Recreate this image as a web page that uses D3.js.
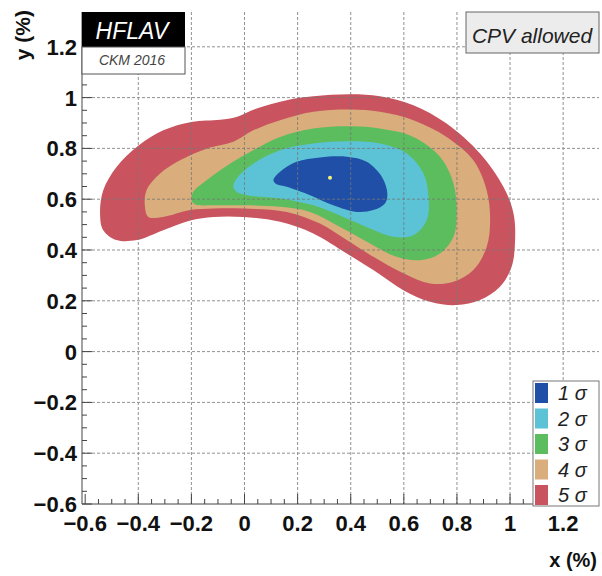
<!DOCTYPE html>
<html><head><meta charset="utf-8">
<script src="https://cdn.jsdelivr.net/npm/d3@7"></script>
<style>body{margin:0;background:#fff}svg{display:block}</style>
</head><body><svg id="c" width="602" height="576"></svg>
<script>
// ---- data (x %, y %) ----
const contour5 = [[-0.544,0.544],[-0.532,0.635],[-0.482,0.727],[-0.40,0.81],[-0.306,0.871],[-0.20,0.904],[-0.092,0.913],[-0.03,0.924],[0.046,0.957],[0.159,0.99],[0.259,1.005],[0.40,1.013],[0.51,1.005],[0.636,0.97],[0.761,0.898],[0.887,0.78],[0.975,0.649],[1.013,0.544],[1.019,0.439],[1.006,0.334],[0.962,0.255],[0.887,0.203],[0.799,0.183],[0.699,0.196],[0.598,0.242],[0.485,0.321],[0.385,0.386],[0.259,0.465],[0.134,0.511],[-0.004,0.53],[-0.117,0.53],[-0.20,0.517],[-0.306,0.478],[-0.406,0.439],[-0.482,0.439],[-0.532,0.478]];
const contour4 = [[-0.375,0.570],[-0.369,0.635],[-0.318,0.701],[-0.243,0.753],[-0.143,0.799],[-0.042,0.826],[0.033,0.871],[0.134,0.911],[0.259,0.944],[0.40,0.953],[0.51,0.944],[0.636,0.911],[0.761,0.845],[0.862,0.753],[0.912,0.635],[0.925,0.517],[0.912,0.412],[0.862,0.321],[0.787,0.275],[0.699,0.268],[0.598,0.308],[0.485,0.373],[0.385,0.439],[0.284,0.504],[0.159,0.55],[-0.004,0.563],[-0.117,0.563],[-0.205,0.557],[-0.306,0.530],[-0.362,0.530]];
const contour3 = [[-0.199,0.596],[-0.193,0.629],[-0.143,0.675],[-0.055,0.740],[0.033,0.793],[0.134,0.845],[0.259,0.878],[0.40,0.887],[0.51,0.878],[0.636,0.845],[0.736,0.767],[0.787,0.662],[0.799,0.544],[0.787,0.452],[0.736,0.386],[0.661,0.360],[0.573,0.373],[0.473,0.426],[0.36,0.491],[0.247,0.55],[0.134,0.570],[0.008,0.576],[-0.117,0.576],[-0.187,0.580]];
const contour2 = [[-0.042,0.649],[-0.03,0.681],[0.033,0.740],[0.134,0.793],[0.259,0.819],[0.40,0.828],[0.51,0.819],[0.611,0.780],[0.674,0.701],[0.693,0.609],[0.686,0.517],[0.636,0.458],[0.561,0.452],[0.473,0.485],[0.372,0.530],[0.259,0.576],[0.134,0.603],[0.008,0.616],[-0.03,0.629]];
const contour1 = [[0.109,0.675],[0.134,0.708],[0.196,0.747],[0.284,0.764],[0.385,0.767],[0.46,0.747],[0.517,0.688],[0.538,0.622],[0.529,0.583],[0.485,0.557],[0.422,0.550],[0.334,0.576],[0.247,0.616],[0.159,0.649],[0.121,0.659]];
const bestFit = [0.322, 0.684];
const sigmaLabels = ["1", "2", "3", "4", "5"];
const sigmaColors = ["#1f4fa6", "#5cc3d6", "#5bbd5e", "#d9ad7c", "#c9545f"];
const xTicks = [-0.6,-0.4,-0.2,0,0.2,0.4,0.6,0.8,1,1.2];
const yTicks = [-0.6,-0.4,-0.2,0,0.2,0.4,0.6,0.8,1,1.2];

const svg = d3.select("#c");
const L=82, R=599, T=12, B=504;
const x = d3.scaleLinear().domain([-0.612,1.335]).range([L,R]);
const y = d3.scaleLinear().domain([-0.6,1.337]).range([B,T]);
const fmt = v => (v<0?"\u2212":"") + String(Math.abs(v));

// contours
const line = d3.line().x(d=>x(d[0])).y(d=>y(d[1])).curve(d3.curveCatmullRomClosed.alpha(0.5));
const contours = [contour5, contour4, contour3, contour2, contour1];
contours.forEach((c,i)=>{
  svg.append("path").attr("d", line(c)).attr("fill", sigmaColors[4-i]);
});
svg.append("circle").attr("cx", x(bestFit[0])).attr("cy", y(bestFit[1])).attr("r", 2).attr("fill", "#f5f27a");

// grid
const g = svg.append("g").attr("stroke","#777").attr("stroke-width",1).attr("stroke-dasharray","3,2").attr("opacity",0.8);
xTicks.filter(v=>v>-0.6).forEach(v=>g.append("line").attr("x1",x(v)).attr("x2",x(v)).attr("y1",T).attr("y2",B));
yTicks.filter(v=>v>-0.6).forEach(v=>g.append("line").attr("x1",L).attr("x2",R).attr("y1",y(v)).attr("y2",y(v)));

// axes (ticks inward)
const ax = svg.append("g").attr("stroke","#444").attr("stroke-width",1);
ax.append("line").attr("x1",L).attr("x2",L).attr("y1",T).attr("y2",B);
ax.append("line").attr("x1",L).attr("x2",R).attr("y1",B).attr("y2",B);
d3.range(-0.6,1.34,0.05).forEach(v=>{
  const major = Math.abs(Math.round(v*5)-v*5)<1e-6;
  ax.append("line").attr("x1",x(v)).attr("x2",x(v)).attr("y1",B).attr("y2",B-(major?10:5));
});
d3.range(-0.6,1.34,0.05).forEach(v=>{
  const major = Math.abs(Math.round(v*5)-v*5)<1e-6;
  ax.append("line").attr("x1",L).attr("x2",L+(major?10:5)).attr("y1",y(v)).attr("y2",y(v));
});

const font = "'Liberation Sans', Arial, sans-serif";
svg.append("g").selectAll("text").data(xTicks).join("text")
  .attr("x",d=>x(d)).attr("y",531).attr("text-anchor","middle")
  .attr("font-family",font).attr("font-weight","bold").attr("font-size",22).attr("fill","#111")
  .text(fmt);
svg.append("g").selectAll("text").data(yTicks).join("text")
  .attr("x",77).attr("y",d=>y(d)+8).attr("text-anchor","end")
  .attr("font-family",font).attr("font-weight","bold").attr("font-size",22).attr("fill","#111")
  .text(fmt);

// axis titles
svg.append("text").attr("x",597).attr("y",567).attr("text-anchor","end")
  .attr("font-family",font).attr("font-weight","bold").attr("font-size",20).attr("fill","#111").text("x (%)");
svg.append("text").attr("transform","translate(30,10) rotate(-90)").attr("text-anchor","end")
  .attr("font-family",font).attr("font-weight","bold").attr("font-size",21).attr("fill","#111").text("y (%)");

// HFLAV logo
svg.append("rect").attr("x",L).attr("y",T).attr("width",103).attr("height",35).attr("fill","#000");
svg.append("rect").attr("x",L).attr("y",T+35).attr("width",103).attr("height",27).attr("fill","#fff").attr("stroke","#555").attr("stroke-width",1);
svg.append("text").attr("x",L+50).attr("y",T+27).attr("text-anchor","middle").attr("font-family",font).attr("font-style","italic").attr("font-size",23).attr("fill","#fff").text("HFLAV");
svg.append("text").attr("x",L+50).attr("y",T+53).attr("text-anchor","middle").attr("font-family",font).attr("font-style","italic").attr("font-size",14).attr("fill","#444").text("CKM 2016");

// CPV allowed box
svg.append("rect").attr("x",466).attr("y",T).attr("width",133).attr("height",41).attr("fill","#ececec").attr("stroke","#666").attr("stroke-width",1);
svg.append("text").attr("x",532).attr("y",T+31).attr("text-anchor","middle").attr("font-family",font).attr("font-style","italic").attr("font-size",21).attr("fill","#222").text("CPV allowed");

// legend
const lg = svg.append("g");
lg.append("rect").attr("x",533).attr("y",381).attr("width",66).attr("height",125).attr("fill","#fff").attr("stroke","#777").attr("stroke-width",1);
sigmaLabels.forEach((s,i)=>{
  const cy = 393 + i*25.5;
  lg.append("rect").attr("x",535).attr("y",cy-10).attr("width",13).attr("height",20).attr("fill",sigmaColors[i]);
  lg.append("text").attr("x",558).attr("y",cy+7).attr("font-family",font).attr("font-style","italic").attr("font-size",20).attr("fill","#222").text(s+" \u03c3");
});
</script></body></html>
